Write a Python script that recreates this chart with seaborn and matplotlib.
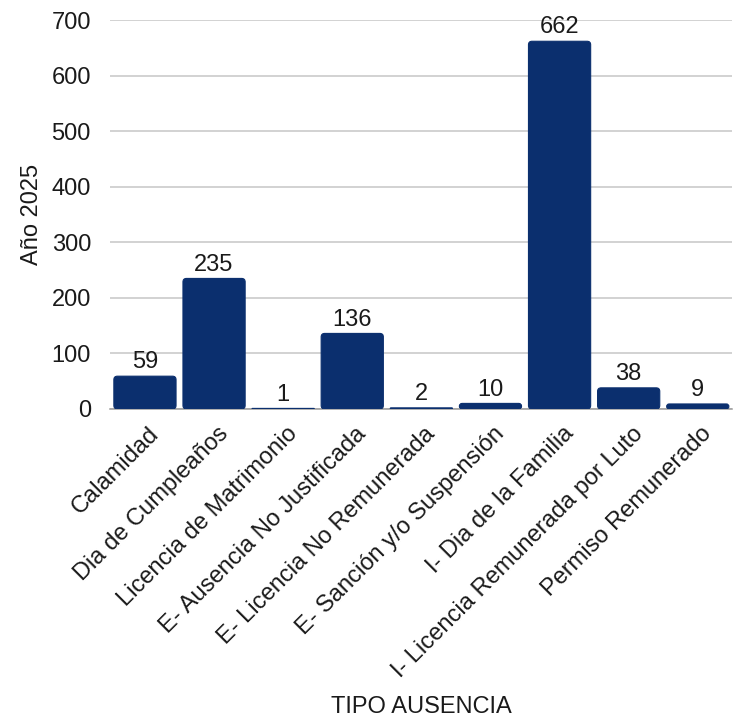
import matplotlib
matplotlib.use("Agg")
import matplotlib.pyplot as plt
from matplotlib.patches import FancyBboxPatch
import matplotlib.transforms as mtransforms
import seaborn as sns
import pandas as pd

categorias = [
    "Calamidad",
    "Dia de Cumpleaños",
    "Licencia de Matrimonio",
    "E- Ausencia No Justificada",
    "E- Licencia No Remunerada",
    "E- Sanción y/o Suspensión",
    "I- Dia de la Familia",
    "I- Licencia Remunerada por Luto",
    "Permiso Remunerado",
]
valores = [59, 235, 1, 136, 2, 10, 662, 38, 9]
ticks_y = [0, 100, 200, 300, 400, 500, 600, 700]

sns.set_theme(style="white")
plt.rcParams["font.family"] = ["Liberation Sans", "DejaVu Sans"]

color_barra = "#0b2f6e"
color_texto = "#1a1a1a"
tam = 17
df = pd.DataFrame({"TIPO AUSENCIA": categorias, "Año 2025": valores})

fig = plt.figure(figsize=(7.36, 7.2), dpi=100)
ax_bottom, ax_height = 0.432, 0.540
ax = fig.add_axes([0.150, ax_bottom, 0.845, ax_height])

sns.barplot(data=df, x="TIPO AUSENCIA", y="Año 2025", color=color_barra,
            saturation=1, width=0.9, ax=ax)

ax.set_ylim(0, 700)
ax.set_xlim(-0.5, len(categorias) - 0.5)
ax.set_yticks(ticks_y)
ax.yaxis.grid(True, color="#c6c6c6", linewidth=1.1)
ax.set_axisbelow(True)
for s in ["top", "right", "left"]:
    ax.spines[s].set_visible(False)
ax.spines["bottom"].set_color("#9a9a9a")
ax.spines["bottom"].set_linewidth(1.1)
ax.spines["bottom"].set_zorder(2)
ax.tick_params(axis="both", length=0, labelsize=tam, colors=color_texto)
ax.tick_params(axis="y", pad=14)

# rounded bar tops: replace the rectangles with rounded boxes
fig.canvas.draw()
px_x = ax.transData.transform((1, 0))[0] - ax.transData.transform((0, 0))[0]
px_y = ax.transData.transform((0, 1))[1] - ax.transData.transform((0, 0))[1]
radio_px = 3.5
r_x = radio_px / px_x
aspecto = (radio_px / px_y) / r_x
for bar in list(ax.patches):
    x0, y0 = bar.get_x(), bar.get_y()
    w, h = bar.get_width(), bar.get_height()
    bar.set_visible(False)
    r = min(r_x, (h / aspecto) / 2 if h > 0 else 0)
    caja = FancyBboxPatch((x0, y0), w, h,
                          boxstyle=f"round,pad=0,rounding_size={r}",
                          mutation_aspect=aspecto,
                          facecolor=color_barra, edgecolor=color_barra,
                          linewidth=0.8, zorder=3)
    ax.add_patch(caja)
    ax.annotate(f"{int(round(h))}", (x0 + w / 2, h), xytext=(0, 2),
                textcoords="offset points", ha="center", va="bottom",
                fontsize=tam, color=color_texto)

plt.setp(ax.get_xticklabels(), rotation=45, ha="right", va="top",
         rotation_mode="anchor")
desplazamiento = mtransforms.ScaledTranslation(3 / 100, -9 / 100, fig.dpi_scale_trans)
for lab in ax.get_xticklabels():
    lab.set_transform(lab.get_transform() + desplazamiento)

ax.set_ylabel("Año 2025", fontsize=tam, color=color_texto, labelpad=6)
ax.set_xlabel("TIPO AUSENCIA", fontsize=tam, color=color_texto)
y_fig = 1 - 707 / 720
ax.xaxis.set_label_coords(0.5, (y_fig - ax_bottom) / ax_height)
ax.xaxis.label.set_va("center")

fig.savefig("out.png", dpi=100)
